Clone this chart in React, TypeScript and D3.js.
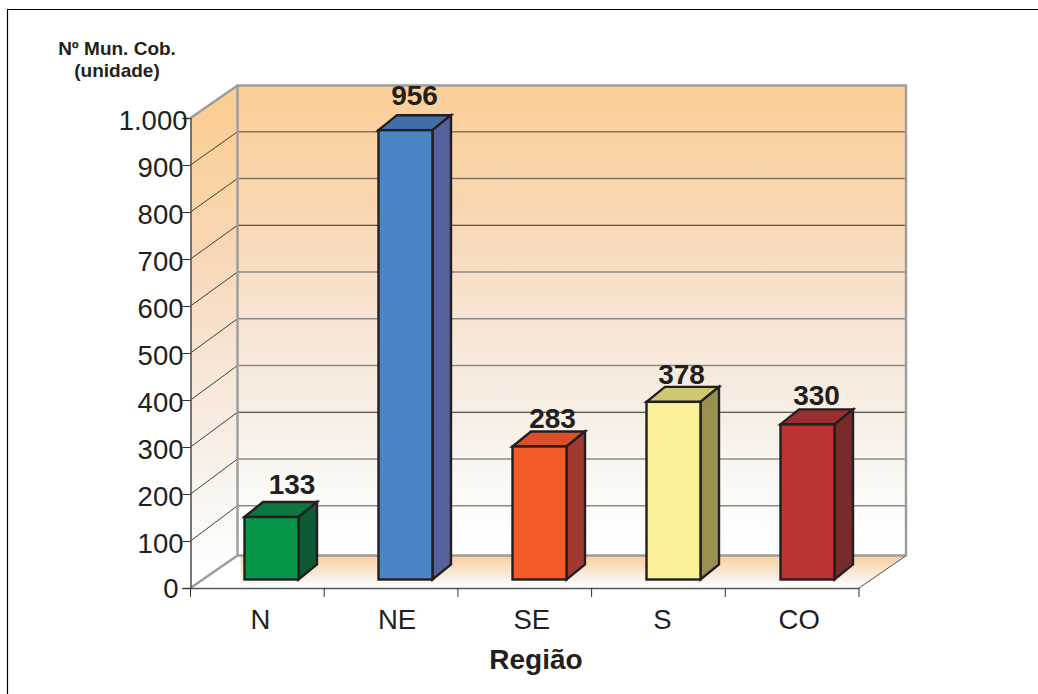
import React, { useEffect, useRef } from 'react';
import * as d3 from 'd3';

const regions = ['N', 'NE', 'SE', 'S', 'CO'];
const municipios = [133, 956, 283, 378, 330];
const yTicks = [0, 100, 200, 300, 400, 500, 600, 700, 800, 900, 1000];
const frontColors = ['#05964a', '#4a86c5', '#f25a27', '#fbf09a', '#bc3431'];
const topColors = ['#0e773f', '#3f6ea8', '#dc4f28', '#d0c870', '#9b2c2f'];
const sideColors = ['#0e5a35', '#54619b', '#a03a30', '#979050', '#782b2b'];

const WIDTH = 1038;
const HEIGHT = 694;
const FONT = '"Liberation Sans", Arial, sans-serif';
const INK = '#231f20';

// fake 3d: the back wall is the front plane pushed by this offset
const DEPTH_X = 47;
const DEPTH_Y = -32.5;
const BAR_DX = 18.5;
const BAR_DY = -15;
const BAR_W = 54;
const BAR_BASE = 579.5;

export default function App() {
  const ref = useRef<SVGSVGElement | null>(null);

  useEffect(() => {
    const svg = d3.select(ref.current);
    svg.selectAll('*').remove();

    const x = d3.scaleBand().domain(regions).range([190.5, 859]);
    const barX = d3.scalePoint().domain(regions).range([244.5, 780.5]);
    const y = d3.scaleLinear().domain([0, 1000]).range([588, 118]);
    // the back wall grid is a touch tighter than the front axis
    const wallY = d3.scaleLinear().domain([0, 1000]).range([552.5, 85]);
    const barH = (v: number) => y(0) - y(v);
    const ptBr = d3.formatLocale({ decimal: ',', thousands: '.', grouping: [3], currency: ['R$', ''] });
    const fmt = ptBr.format(',d');

    const defs = svg.append('defs');
    const grad = (id: string, y1: number, y2: number) => {
      const g = defs.append('linearGradient').attr('id', id)
        .attr('gradientUnits', 'userSpaceOnUse')
        .attr('x1', 0).attr('x2', 0).attr('y1', y1).attr('y2', y2);
      g.append('stop').attr('offset', 0).attr('stop-color', '#fbce96');
      g.append('stop').attr('offset', 0.3).attr('stop-color', '#f9d8b7');
      g.append('stop').attr('offset', 0.52).attr('stop-color', '#f7e6d6');
      g.append('stop').attr('offset', 0.71).attr('stop-color', '#f7efe6');
      g.append('stop').attr('offset', 0.84).attr('stop-color', '#faf8f4');
      g.append('stop').attr('offset', 0.97).attr('stop-color', '#ffffff');
    };
    grad('wall', y(1000) + DEPTH_Y, y(0) + DEPTH_Y);
    grad('side', y(1000), y(0));
    const floorG = defs.append('linearGradient').attr('id', 'floor')
      .attr('gradientUnits', 'userSpaceOnUse')
      .attr('x1', 0).attr('x2', 0).attr('y1', y(0) + DEPTH_Y).attr('y2', y(0));
    floorG.append('stop').attr('offset', 0).attr('stop-color', '#fbce9c');
    floorG.append('stop').attr('offset', 0.75).attr('stop-color', '#f9f3ec');
    floorG.append('stop').attr('offset', 1).attr('stop-color', '#ffffff');

    // page frame
    svg.append('path').attr('d', `M7.5,${HEIGHT}V9.5H${WIDTH}`)
      .attr('fill', 'none').attr('stroke', '#000').attr('stroke-width', 1.2);

    const x0 = x.range()[0];
    const x1 = x.range()[1];
    const bx0 = x0 + DEPTH_X;
    const bx1 = x1 + DEPTH_X;
    const by0 = y(0) + DEPTH_Y;
    const by1 = y(1000) + DEPTH_Y;

    // floor, side wall and back wall
    svg.append('path')
      .attr('d', `M${bx0 + 3},${by0}H${bx1}L${x1},${y(0)}H${bx0 + 3}Z`)
      .attr('fill', 'url(#floor)');
    svg.append('path')
      .attr('d', `M${x0},${y(1000)}L${bx0},${by1}V${by0}L${x0},${y(0)}Z`)
      .attr('fill', 'url(#side)');
    svg.append('rect')
      .attr('x', bx0).attr('y', by1).attr('width', bx1 - bx0).attr('height', by0 - by1)
      .attr('fill', 'url(#wall)');

    // grid on both walls, the printed lines come out darker in places
    const gridTicks = yTicks.filter(t => t > 0 && t < 1000);
    const gridColor = (d: number) => {
      if (d === 700 || d === 300) return '#2b2826';
      if (d >= 800) return '#857462';
      return '#8c8a88';
    };
    svg.append('g').selectAll('line').data(gridTicks).join('line')
      .attr('x1', bx0).attr('x2', bx1)
      .attr('y1', d => wallY(d)).attr('y2', d => wallY(d))
      .attr('stroke', gridColor)
      .attr('stroke-width', d => (d === 700 || d === 300 ? 1 : 1.4));
    svg.append('g').selectAll('line').data(gridTicks).join('line')
      .attr('x1', x0).attr('x2', bx0)
      .attr('y1', d => y(d)).attr('y2', d => wallY(d))
      .attr('stroke', '#2b2b2b').attr('stroke-width', 0.9);

    // wall edges
    svg.append('path')
      .attr('d', `M${x0},${y(0)}L${bx0},${by0}H${bx1}V${by1}H${bx0}V${by0}M${x0},${y(1000)}L${bx0},${by1}`)
      .attr('fill', 'none').attr('stroke', '#9c9c9c').attr('stroke-width', 2.4);
    svg.append('line')
      .attr('x1', x1).attr('y1', y(0)).attr('x2', bx1 - 1).attr('y2', by0 + 1)
      .attr('stroke', '#3a3a3a').attr('stroke-width', 0.9);

    // axes
    const yAxis = svg.append('g')
      .attr('transform', `translate(${x0},0)`)
      .call(d3.axisLeft(y).tickValues(yTicks).tickFormat(d => fmt(d as number)).tickSize(8).tickPadding(0));
    yAxis.select('.domain').attr('stroke', '#55565a').attr('stroke-width', 1.6);
    yAxis.selectAll('.tick line').attr('stroke', '#333').attr('stroke-width', 1);
    yAxis.selectAll<SVGTextElement, number>('.tick text')
      .attr('font-family', FONT).attr('font-size', 27.5).attr('fill', INK)
      .attr('x', d => (d === 1000 ? -3 : d === 0 ? -12 : -7))
      .attr('dy', d => (d === 0 ? '0.36em' : '0.42em'));

    const labelDx = [3, 6, 7, 4, 7];
    const xAxis = svg.append('g')
      .attr('transform', `translate(0,${y(0)})`)
      .call(d3.axisBottom(x).tickSize(0).tickPadding(0));
    xAxis.select('.domain').attr('stroke', '#55565a').attr('stroke-width', 1.6);
    xAxis.selectAll('.tick text')
      .attr('font-family', FONT).attr('font-size', 27.5).attr('fill', INK)
      .attr('dx', (_, i) => labelDx[i]).attr('y', 41).attr('dy', 0);

    const edges = [...regions.map(r => x(r) as number), x1];
    svg.append('g').selectAll('line').data(edges).join('line')
      .attr('x1', d => d).attr('x2', d => d)
      .attr('y1', y(0)).attr('y2', y(0) + 9)
      .attr('stroke', '#333').attr('stroke-width', 1);

    // bars
    const bars = svg.append('g').selectAll('g').data(regions).join('g')
      .attr('transform', r => `translate(${barX(r)},0)`);
    const outline = (sel: any) => sel
      .attr('stroke', '#231f20').attr('stroke-width', 2.4).attr('stroke-linejoin', 'miter');
    bars.append('path')
      .attr('d', (_, i) => {
        const t = BAR_BASE - barH(municipios[i]);
        return `M0,${t}l${BAR_DX},${BAR_DY}h${BAR_W}l${-BAR_DX},${-BAR_DY}Z`;
      })
      .attr('fill', (_, i) => topColors[i]).call(outline);
    bars.append('path')
      .attr('d', (_, i) => {
        const t = BAR_BASE - barH(municipios[i]);
        return `M${BAR_W},${t}l${BAR_DX},${BAR_DY}V${BAR_BASE + BAR_DY}l${-BAR_DX},${-BAR_DY}Z`;
      })
      .attr('fill', (_, i) => sideColors[i]).call(outline);
    bars.append('rect')
      .attr('x', 0).attr('width', BAR_W)
      .attr('y', (_, i) => BAR_BASE - barH(municipios[i]))
      .attr('height', (_, i) => barH(municipios[i]))
      .attr('fill', (_, i) => frontColors[i]).call(outline);

    // value labels sit by hand in the original, so a few get nudged
    const nudgeX = [12.5, 1, 5, 0, 1];
    const nudgeY = [1.5, -1, 6, 6, 4.5];
    bars.append('text')
      .text((_, i) => municipios[i])
      .attr('x', (_, i) => 35 + nudgeX[i])
      .attr('y', (_, i) => BAR_BASE - barH(municipios[i]) + BAR_DY - 9 + nudgeY[i])
      .attr('text-anchor', 'middle')
      .attr('font-family', FONT).attr('font-size', 28).attr('font-weight', 700).attr('fill', INK);

    // titles
    const title = svg.append('g')
      .attr('font-family', FONT).attr('font-weight', 700).attr('fill', INK).attr('text-anchor', 'middle');
    title.append('text').attr('x', 117).attr('y', 55).attr('font-size', 19).text('Nº Mun. Cob.');
    title.append('text').attr('x', 117).attr('y', 77).attr('font-size', 19).text('(unidade)');
    title.append('text').attr('x', 536).attr('y', 669).attr('font-size', 28).text('Região');
  }, []);

  return (
    <svg
      ref={ref}
      width={WIDTH}
      height={HEIGHT}
      style={{ position: 'absolute', left: 0, top: 0, background: '#fff' }}
    />
  );
}
